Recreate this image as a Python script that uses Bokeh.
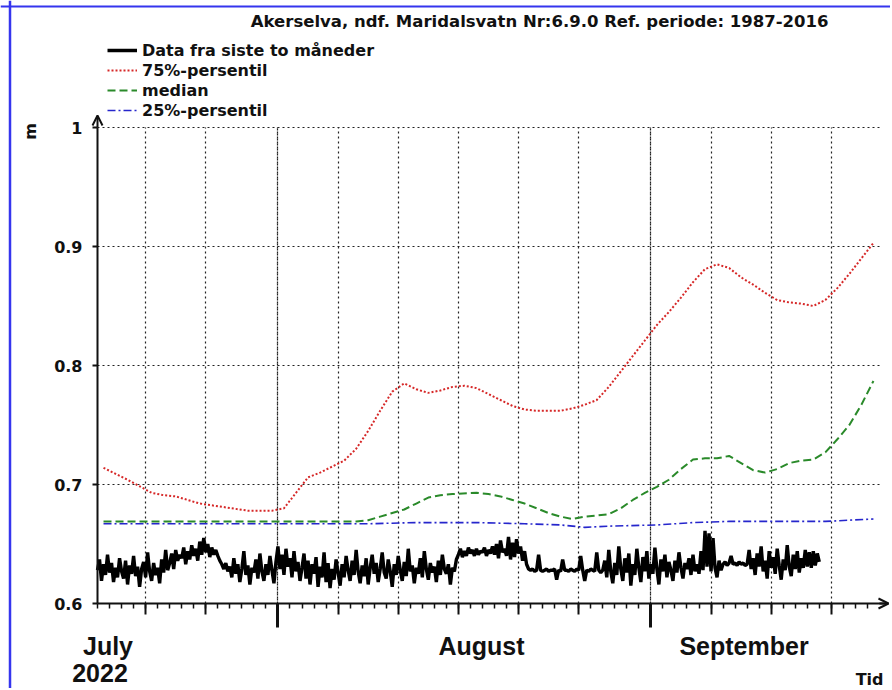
import math
import pandas as pd
from bokeh.plotting import figure
from bokeh.models import (Range1d, FixedTicker, DatetimeAxis, Label, Legend, LegendItem,
                          Arrow, OpenHead, NumeralTickFormatter, Grid, Span)
from bokeh.embed import file_html
from bokeh.resources import INLINE

# ---------------- texts ----------------
TITLE = "Akerselva, ndf. Maridalsvatn Nr:6.9.0 Ref. periode: 1987-2016"
SERIES = ["Data fra siste to måneder", "75%-persentil", "median", "25%-persentil"]
Y_LABEL = "m"
X_LABEL = "Tid"
MONTH_LABELS = ["July", "August", "September"]
YEAR_LABEL = "2022"

# ---------------- axes / ticks ----------------
Y_TICKS = [0.6, 0.7, 0.8, 0.9, 1.0]
GRID_DATES = ["2022-07-21", "2022-07-26", "2022-08-01", "2022-08-06", "2022-08-11",
              "2022-08-16", "2022-08-21", "2022-08-26", "2022-09-01", "2022-09-06",
              "2022-09-11", "2022-09-16"]
MONTH_STARTS = ["2022-08-01", "2022-09-01"]
X_START = "2022-07-17"
X_GRID_END = "2022-09-20"
X_AXIS_END = "2022-09-20 18:00"
MINOR_END = "2022-09-19"

# ---------------- observed water level (every 4 hours from start) ----------------
OBS_START = "2022-07-17 00:00"
OBS_STEP = "4h"
obs_jul = [
    0.628, 0.637, 0.619, 0.633, 0.624, 0.641,
    0.626, 0.634, 0.618, 0.630, 0.622, 0.638,
    0.627, 0.621, 0.636, 0.616, 0.632, 0.625,
    0.640, 0.623, 0.631, 0.614, 0.629, 0.635,
    0.622, 0.643, 0.627, 0.619, 0.634, 0.624,
    0.630, 0.617, 0.637, 0.626, 0.645, 0.628,
    0.634, 0.642, 0.629, 0.645, 0.636, 0.641,
    0.638, 0.647, 0.633, 0.644, 0.637, 0.649,
    0.640, 0.646, 0.636, 0.652, 0.641, 0.655,
    0.643, 0.650, 0.639, 0.647, 0.641, 0.645,
    0.640, 0.636, 0.633, 0.629, 0.634, 0.627,
    0.631, 0.622, 0.638, 0.625, 0.633, 0.618,
    0.629, 0.644, 0.624, 0.632, 0.616, 0.630,
    0.626, 0.637, 0.621, 0.642, 0.627, 0.619,
    0.633, 0.624, 0.640, 0.628, 0.617, 0.635,
]
obs_aug = [
    0.648, 0.629, 0.641, 0.624, 0.646, 0.631,
    0.638, 0.622, 0.644, 0.627, 0.635, 0.619,
    0.630, 0.642, 0.621, 0.636, 0.616, 0.633,
    0.625, 0.639, 0.614, 0.631, 0.622, 0.643,
    0.618, 0.634, 0.613, 0.629, 0.620, 0.637,
    0.626, 0.615, 0.633, 0.622, 0.640, 0.628,
    0.619, 0.636, 0.624, 0.645, 0.627, 0.617,
    0.632, 0.623, 0.638, 0.616, 0.630, 0.641,
    0.625, 0.634, 0.618, 0.629, 0.643, 0.626,
    0.621, 0.637, 0.627, 0.614, 0.633, 0.624,
    0.640, 0.628, 0.619, 0.635, 0.623, 0.646,
    0.627, 0.632, 0.617, 0.630, 0.625, 0.638,
    0.622, 0.644, 0.629, 0.620, 0.634, 0.626,
    0.631, 0.618, 0.636, 0.624, 0.641, 0.629,
    0.625, 0.633, 0.616, 0.630, 0.627, 0.637,
    0.641, 0.646, 0.639, 0.644, 0.640, 0.647,
    0.642, 0.645, 0.640, 0.646, 0.641, 0.644,
    0.643, 0.647, 0.640, 0.645, 0.642, 0.648,
    0.641, 0.650, 0.638, 0.653, 0.643, 0.646,
    0.640, 0.656, 0.637, 0.651, 0.639, 0.654,
    0.642, 0.648, 0.636, 0.644, 0.633, 0.629,
    0.628, 0.629, 0.627, 0.628, 0.641, 0.628,
    0.627, 0.628, 0.629, 0.627, 0.628, 0.628,
    0.629, 0.620, 0.628, 0.627, 0.637, 0.628,
    0.628, 0.627, 0.629, 0.628, 0.627, 0.629,
    0.628, 0.640, 0.628, 0.619, 0.628, 0.627,
    0.629, 0.628, 0.627, 0.643, 0.628, 0.626,
    0.628, 0.636, 0.622, 0.645, 0.627, 0.617,
    0.634, 0.624, 0.648, 0.629, 0.619, 0.638,
    0.626, 0.642, 0.615, 0.633, 0.624, 0.646,
    0.630, 0.618, 0.639, 0.627, 0.644, 0.621,
]
obs_sep = [
    0.633, 0.625, 0.647, 0.629, 0.616, 0.637,
    0.627, 0.641, 0.622, 0.635, 0.628, 0.619,
    0.636, 0.626, 0.643, 0.630, 0.621, 0.634,
    0.629, 0.638, 0.624, 0.641, 0.627, 0.633,
    0.625, 0.644, 0.628, 0.661, 0.631, 0.659,
    0.627, 0.655, 0.630, 0.622, 0.636, 0.628,
    0.633, 0.635, 0.632, 0.634, 0.640, 0.633,
    0.634, 0.632, 0.635, 0.633, 0.634, 0.632,
    0.633, 0.645, 0.629, 0.638, 0.624, 0.642,
    0.631, 0.648, 0.627, 0.636, 0.621, 0.644,
    0.630, 0.639, 0.625, 0.646, 0.632, 0.620,
    0.637, 0.628, 0.649, 0.631, 0.623, 0.641,
    0.629, 0.644, 0.626, 0.638, 0.630, 0.645,
    0.631, 0.643, 0.630, 0.644, 0.632, 0.642,
    0.635,
]

# ---------------- reference percentiles (daily values, plotted at noon) ----------------
p75_dates = ["2022-07-17", "2022-07-19", "2022-07-21", "2022-07-22", "2022-07-23", "2022-07-25",
             "2022-07-27", "2022-07-29", "2022-07-31", "2022-08-01", "2022-08-02", "2022-08-03",
             "2022-08-04", "2022-08-05", "2022-08-06", "2022-08-07", "2022-08-08", "2022-08-09",
             "2022-08-10", "2022-08-11", "2022-08-12", "2022-08-13", "2022-08-14", "2022-08-15",
             "2022-08-16", "2022-08-17", "2022-08-18", "2022-08-19", "2022-08-20", "2022-08-21",
             "2022-08-22", "2022-08-24", "2022-08-25", "2022-08-26", "2022-08-27", "2022-08-28",
             "2022-08-29", "2022-08-30", "2022-08-31", "2022-09-01", "2022-09-02", "2022-09-03",
             "2022-09-04", "2022-09-05", "2022-09-06", "2022-09-07", "2022-09-08", "2022-09-09",
             "2022-09-10", "2022-09-11", "2022-09-12", "2022-09-13", "2022-09-14", "2022-09-15",
             "2022-09-16", "2022-09-17", "2022-09-18", "2022-09-19"]
p75_vals = [0.714, 0.704, 0.693, 0.691, 0.690, 0.684,
            0.681, 0.678, 0.678, 0.680, 0.693, 0.706,
            0.710, 0.715, 0.720, 0.730, 0.745, 0.762,
            0.778, 0.785, 0.780, 0.777, 0.779, 0.782,
            0.783, 0.781, 0.776, 0.771, 0.766, 0.763,
            0.762, 0.762, 0.764, 0.767, 0.771, 0.782,
            0.795, 0.808, 0.821, 0.834, 0.845, 0.857,
            0.870, 0.881, 0.885, 0.882, 0.874, 0.868,
            0.861, 0.855, 0.853, 0.852, 0.850, 0.855,
            0.865, 0.877, 0.890, 0.903]

p50_dates = ["2022-07-17", "2022-07-24", "2022-07-31", "2022-08-05", "2022-08-07", "2022-08-08",
             "2022-08-09", "2022-08-10", "2022-08-11", "2022-08-12", "2022-08-13", "2022-08-14",
             "2022-08-15", "2022-08-17", "2022-08-18", "2022-08-19", "2022-08-20", "2022-08-21",
             "2022-08-22", "2022-08-23", "2022-08-24", "2022-08-25", "2022-08-26", "2022-08-27",
             "2022-08-28", "2022-08-29", "2022-08-30", "2022-08-31", "2022-09-01", "2022-09-02",
             "2022-09-03", "2022-09-04", "2022-09-05", "2022-09-06", "2022-09-07", "2022-09-08",
             "2022-09-09", "2022-09-10", "2022-09-11", "2022-09-12", "2022-09-13", "2022-09-14",
             "2022-09-15", "2022-09-16", "2022-09-17", "2022-09-18", "2022-09-19"]
p50_vals = [0.669, 0.669, 0.669, 0.669, 0.669, 0.670,
            0.673, 0.676, 0.679, 0.684, 0.689, 0.691,
            0.692, 0.693, 0.692, 0.690, 0.687, 0.684,
            0.680, 0.676, 0.673, 0.671, 0.673, 0.674,
            0.675, 0.680, 0.687, 0.693, 0.698, 0.704,
            0.713, 0.721, 0.722, 0.722, 0.724, 0.718,
            0.712, 0.710, 0.713, 0.718, 0.720, 0.721,
            0.727, 0.738, 0.750, 0.767, 0.787]

p25_dates = ["2022-07-17", "2022-07-31", "2022-08-08", "2022-08-12", "2022-08-17", "2022-08-21",
             "2022-08-24", "2022-08-26", "2022-08-28", "2022-09-01", "2022-09-04", "2022-09-07",
             "2022-09-15", "2022-09-17", "2022-09-19"]
p25_vals = [0.667, 0.667, 0.667, 0.668, 0.668, 0.667,
            0.666, 0.664, 0.665, 0.666, 0.668, 0.669,
            0.669, 0.670, 0.671]


def ms(s):
    return pd.Timestamp(s).value / 1e6


# ---------------- layout (pixels) ----------------
W, H = 890, 688
LEFT_PX = 97          # y axis position
TOP_PX = 127          # y = 1.0
BOT_PX = 603          # y = 0.6
PX_PER_DAY = 12.03
DAY_MS = 86400000.0
FONT = "DejaVu Sans"
INK = "#111111"

x_lo = ms(X_START) - LEFT_PX / PX_PER_DAY * DAY_MS
x_hi = x_lo + W / PX_PER_DAY * DAY_MS
px_per_unit = (BOT_PX - TOP_PX) / (Y_TICKS[-1] - Y_TICKS[0])
y_hi = Y_TICKS[-1] + TOP_PX / px_per_unit
y_lo = Y_TICKS[0] - (H - BOT_PX) / px_per_unit

obs_vals = obs_jul + obs_aug + obs_sep
obs_t = pd.date_range(OBS_START, periods=len(obs_vals), freq=OBS_STEP)
noon = pd.Timedelta(hours=12)
p75_t = pd.to_datetime(p75_dates) + noon
p50_t = pd.to_datetime(p50_dates) + noon
p25_t = pd.to_datetime(p25_dates) + noon

grid_ms = [ms(d) for d in GRID_DATES]
month_ms = [ms(d) for d in MONTH_STARTS]
day_ms = [ms(d) for d in pd.date_range(X_START, MINOR_END, freq="D")]

p = figure(width=W, height=H, x_axis_type="datetime", title=None,
           output_backend="svg", toolbar_location=None,
           x_range=Range1d(x_lo, x_hi), y_range=Range1d(y_lo, y_hi),
           min_border=0, min_border_left=0, min_border_right=0,
           min_border_top=0, min_border_bottom=0,
           background_fill_color="white", border_fill_color="white",
           outline_line_color=None)

# blue frame lines of the original picture (left and top edges)
p.add_layout(Span(location=x_lo + 9.5 / PX_PER_DAY * DAY_MS, dimension="height",
                  line_color="#3535ee", line_width=2.5))
p.add_layout(Span(location=y_hi - 6 / px_per_unit, dimension="width",
                  line_color="#3535ee", line_width=2))

# grids
HAS_CB = "cross_bounds" in Grid.properties()
grid_style = dict(grid_line_color="#222222", grid_line_dash="2 3", grid_line_width=1.2)
if HAS_CB:
    p.xgrid.ticker = FixedTicker(ticks=grid_ms)
    p.ygrid.ticker = FixedTicker(ticks=Y_TICKS[1:])
    for g in p.xgrid:
        g.update(cross_bounds=(Y_TICKS[0], Y_TICKS[-1]), **grid_style)
    for g in p.ygrid:
        g.update(cross_bounds=(ms(X_START), ms(X_GRID_END)), **grid_style)
    p.add_layout(Grid(dimension=0, ticker=FixedTicker(ticks=month_ms),
                      cross_bounds=(Y_TICKS[0], Y_TICKS[-1]), grid_line_dash_offset=2,
                      **grid_style))
else:
    p.xgrid.visible = False
    p.ygrid.visible = False
    gx = grid_ms + month_ms
    p.segment(x0=gx, y0=[Y_TICKS[0]] * len(gx), x1=gx, y1=[Y_TICKS[-1]] * len(gx),
              line_color="#222222", line_dash="2 3", line_width=1.2)
    gy = Y_TICKS[1:]
    p.segment(x0=[ms(X_START)] * len(gy), y0=gy, x1=[ms(X_GRID_END)] * len(gy), y1=gy,
              line_color="#222222", line_dash="2 3", line_width=1.2)

# x axis (grid ticks + daily minor ticks), drawn at y = 0.6
xa = p.xaxis[0]
xa.update(ticker=FixedTicker(ticks=grid_ms, minor_ticks=day_ms),
          fixed_location=Y_TICKS[0], bounds=(ms(X_START), ms(X_AXIS_END)),
          axis_line_width=2, axis_line_color=INK,
          major_tick_in=0, major_tick_out=11, major_tick_line_width=2, major_tick_line_color=INK,
          minor_tick_in=0, minor_tick_out=5, minor_tick_line_width=1.5, minor_tick_line_color=INK,
          major_label_text_color=None)

# long ticks at month starts
xa2 = DatetimeAxis(ticker=FixedTicker(ticks=month_ms, minor_ticks=[]),
                   fixed_location=Y_TICKS[0], axis_line_color=None,
                   major_tick_in=0, major_tick_out=24, major_tick_line_width=3,
                   major_tick_line_color=INK, minor_tick_line_color=None,
                   major_label_text_color=None)
p.add_layout(xa2, "below")

# y axis at the start date
ya = p.yaxis[0]
ya.update(ticker=FixedTicker(ticks=Y_TICKS, minor_ticks=[]),
          formatter=NumeralTickFormatter(format="0.[0]"),
          fixed_location=ms(X_START), bounds=(Y_TICKS[0], Y_TICKS[-1]),
          axis_line_width=2, axis_line_color=INK,
          major_tick_in=0, major_tick_out=5, major_tick_line_width=2, major_tick_line_color=INK,
          major_label_standoff=10, major_label_text_font=FONT,
          major_label_text_font_style="bold", major_label_text_font_size="16px",
          major_label_text_color=INK)

# axis arrows
p.add_layout(Arrow(x_start=ms(X_GRID_END), y_start=Y_TICKS[0], x_end=ms(X_AXIS_END), y_end=Y_TICKS[0],
                   line_width=2, line_color=INK,
                   end=OpenHead(size=10, line_width=2, line_color=INK)))
p.add_layout(Arrow(x_start=ms(X_START), y_start=Y_TICKS[-1], x_end=ms(X_START),
                   y_end=Y_TICKS[-1] + 12 / px_per_unit,
                   line_width=2, line_color=INK,
                   end=OpenHead(size=10, line_width=2, line_color=INK)))

# series
r_obs = p.line(obs_t, obs_vals, line_color="black", line_width=3.4, line_join="bevel")
r75 = p.line(p75_t, p75_vals, line_color="#d62828", line_width=2, line_dash="2 2")
r50 = p.line(p50_t, p50_vals, line_color="#2a8a2a", line_width=2, line_dash="8 4")
r25 = p.line(p25_t, p25_vals, line_color="#2626cc", line_width=1.6, line_dash="8 3 2 3")
# legend key for the observed series (thicker sample line, nothing drawn in the plot)
r_key = p.line(x=[obs_t[0]], y=[float("nan")], line_color="black", line_width=3.5)

legend = Legend(items=[LegendItem(label=SERIES[0], renderers=[r_key]),
                       LegendItem(label=SERIES[1], renderers=[r75]),
                       LegendItem(label=SERIES[2], renderers=[r50]),
                       LegendItem(label=SERIES[3], renderers=[r25])],
                location=(107, H - 120), orientation="vertical",
                label_text_font=FONT, label_text_font_style="bold", label_text_font_size="16px",
                label_text_color=INK, glyph_width=30, glyph_height=20, label_height=20,
                label_standoff=5, spacing=0, padding=0, margin=0,
                background_fill_alpha=0, border_line_color=None)
p.add_layout(legend)


# texts placed in page pixels (frame covers whole canvas)
def add_text(text, px, py, size="16px", font=FONT, align="left", baseline="alphabetic", angle=0.0):
    p.add_layout(Label(x=px, y=H - py, x_units="screen", y_units="screen", text=text,
                       text_font=font, text_font_style="bold", text_font_size=size,
                       text_color=INK, text_align=align, text_baseline=baseline, angle=angle))


add_text(TITLE, 828, 21, size="16.5px", align="right", baseline="middle")
add_text(Y_LABEL, 30, 131, align="center", baseline="middle", angle=math.pi / 2)
add_text(X_LABEL, 883, 679, align="right")
add_text(MONTH_LABELS[0], 107.5, 645, size="25px", font="Liberation Sans", align="center")
add_text(YEAR_LABEL, 99.5, 672, size="25px", font="Liberation Sans", align="center")
add_text(MONTH_LABELS[1], 481, 645, size="25px", font="Liberation Sans", align="center")
add_text(MONTH_LABELS[2], 743.5, 645, size="25px", font="Liberation Sans", align="center")

open("out.html", "w").write(file_html(p, INLINE))
